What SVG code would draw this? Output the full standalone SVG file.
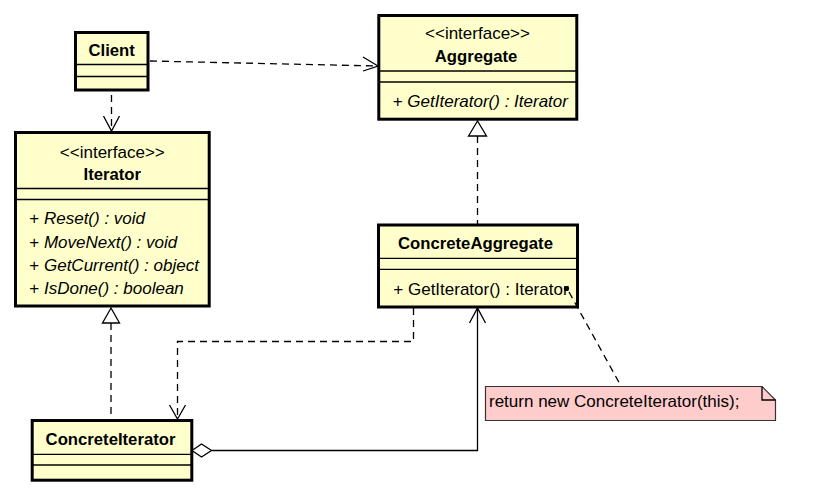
<svg xmlns="http://www.w3.org/2000/svg" width="819" height="501" viewBox="0 0 819 501">
<style>
  .box { fill: #FFFFCC; stroke: #000; stroke-width: 3; }
  .div { stroke: #000; stroke-width: 1.3; fill: none; }
  .t { font-family: "Liberation Sans", Arial, sans-serif; font-size: 17px; fill: #000; }
  .b { font-weight: bold; font-size: 16.7px; }
  .i { font-style: italic; }
  .m { text-anchor: middle; }
  .line { stroke: #000; stroke-width: 1.3; fill: none; }
  .dash { stroke-dasharray: 7 5; }
  .note { fill: #FFCCCC; stroke: #333; stroke-width: 1.2; }
</style>
<rect width="819" height="501" fill="#fff"/>

<g id="client">
  <rect class="box" x="75.5" y="32.5" width="72.5" height="57.5"/>
  <line class="div" x1="75.5" y1="64.5" x2="148" y2="64.5"/>
  <line class="div" x1="75.5" y1="76.5" x2="148" y2="76.5"/>
  <text class="t b m" x="111.7" y="56">Client</text>
</g>

<g id="iterator">
  <rect class="box" x="15.5" y="132.5" width="193.7" height="173.5"/>
  <line class="div" x1="15.5" y1="188.5" x2="209.2" y2="188.5"/>
  <line class="div" x1="15.5" y1="199.5" x2="209.2" y2="199.5"/>
  <text class="t m" x="112.3" y="157.5">&lt;&lt;interface&gt;&gt;</text>
  <text class="t b m" x="112.3" y="180.3">Iterator</text>
  <text class="t" x="29.3" y="224.2">+ <tspan class="i">Reset() : void</tspan></text>
  <text class="t" x="29.3" y="247.5">+ <tspan class="i">MoveNext() : void</tspan></text>
  <text class="t" x="29.3" y="270.8">+ <tspan class="i">GetCurrent() : object</tspan></text>
  <text class="t" x="29.3" y="294">+ <tspan class="i">IsDone() : boolean</tspan></text>
</g>

<g id="aggregate">
  <rect class="box" x="378.8" y="15.5" width="198" height="103.7"/>
  <line class="div" x1="378.8" y1="71" x2="576.8" y2="71"/>
  <line class="div" x1="378.8" y1="82" x2="576.8" y2="82"/>
  <text class="t m" x="477.5" y="38.5">&lt;&lt;interface&gt;&gt;</text>
  <text class="t b m" x="476" y="61.7">Aggregate</text>
  <text class="t" x="392.7" y="106.7">+ <tspan class="i">GetIterator() : Iterator</tspan></text>
</g>

<g id="concrete-aggregate">
  <rect class="box" x="378.5" y="225" width="199" height="82"/>
  <line class="div" x1="378.5" y1="258.3" x2="577.5" y2="258.3"/>
  <line class="div" x1="378.5" y1="269.3" x2="577.5" y2="269.3"/>
  <text class="t b m" x="475.5" y="248.8">ConcreteAggregate</text>
  <text class="t" x="393.3" y="294.6">+ GetIterator() : Iterator</text>
</g>

<g id="concrete-iterator">
  <rect class="box" x="32.2" y="420.5" width="159.6" height="59.7"/>
  <line class="div" x1="32.2" y1="454.3" x2="191.8" y2="454.3"/>
  <line class="div" x1="32.2" y1="465" x2="191.8" y2="465"/>
  <text class="t b m" x="110.5" y="444.5">ConcreteIterator</text>
</g>

<g id="note">
  <path class="note" d="M485.5,386.5 L762,386.5 L775.5,400 L775.5,420.5 L485.5,420.5 Z"/>
  <path class="line" d="M762,386.5 L762,400 L775.5,400" stroke-width="1.2"/>
  <text class="t" x="489" y="406.5">return new ConcreteIterator(this);</text>
</g>

<g id="connectors">
  <!-- Client -> Aggregate dependency -->
  <path class="line dash" d="M150,61 L377,66"/>
  <path class="line" d="M363,57 L378,66 L363,71"/>
  <!-- Client -> Iterator dependency -->
  <path class="line dash" d="M111.5,95 L111.5,130"/>
  <path class="line" d="M103.5,116 L111.5,131 L119.5,116"/>
  <!-- ConcreteAggregate -> Aggregate realization -->
  <path class="line dash" d="M477.5,136 L477.5,224"/>
  <polygon points="477.5,121 468.5,136 486.5,136" fill="#fff" stroke="#000" stroke-width="1.3"/>
  <!-- ConcreteIterator -> Iterator realization -->
  <path class="line dash" d="M111,323 L111,419"/>
  <polygon points="111,308 102.5,323 119.5,323" fill="#fff" stroke="#000" stroke-width="1.3"/>
  <!-- ConcreteAggregate -> ConcreteIterator dependency -->
  <path class="line dash" d="M413.5,308 L413.5,341.5 L177.5,341.5 L177.5,418"/>
  <path class="line" d="M169.5,405 L177.5,419 L185.5,405"/>
  <!-- Association ConcreteIterator (aggregation) -> ConcreteAggregate -->
  <path class="line" d="M211.5,450.5 L477.5,450.5 L477.5,308"/>
  <path class="line" d="M469.5,323 L477.5,308 L485.5,323"/>
  <polygon points="192,450.5 201.5,444 211.5,450.5 201.5,457" fill="#fff" stroke="#000" stroke-width="1.3"/>
  <!-- Note anchor -->
  <circle cx="566.5" cy="288.5" r="2.6" fill="#000"/>
  <path class="line dash" d="M569,292 L621,386"/>
</g>
</svg>
